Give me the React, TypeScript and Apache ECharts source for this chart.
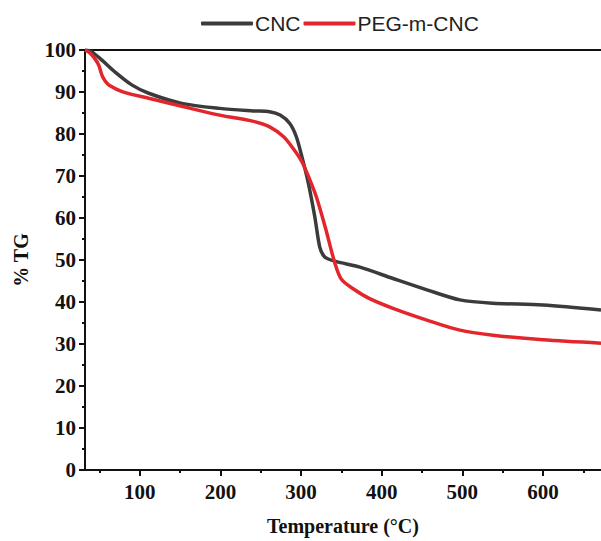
import React, { useEffect, useRef } from "react";
import * as echarts from "echarts";

const cncTemp = [32, 40, 53, 69, 90, 111, 152, 199, 241, 261, 274, 286, 294, 301, 309, 317, 323, 328, 333, 344, 373, 414, 456, 497, 538, 600, 672];
const cncTG = [100, 99.6, 97.6, 94.8, 91.7, 89.7, 87.3, 86.1, 85.5, 85.3, 84.5, 82.5, 79.4, 74.6, 68.3, 60.3, 53.2, 51, 50.3, 49.6, 48.3, 45.6, 42.9, 40.5, 39.7, 39.3, 38.1];

const pegTemp = [32, 38, 44, 49, 53, 57, 62, 78, 111, 152, 199, 241, 261, 278, 290, 301, 310, 319, 330, 342, 350, 365, 385, 414, 456, 497, 538, 600, 672];
const pegTG = [100, 99.3, 98, 96.4, 94, 92.6, 91.6, 90.1, 88.5, 86.6, 84.5, 83, 81.7, 79.4, 76.6, 73.4, 69.5, 65, 57.8, 49.2, 45.4, 43.1, 40.8, 38.5, 35.7, 33.3, 32.1, 31, 30.2];

const xMajor = [100, 200, 300, 400, 500, 600];
const xMinor = [50, 150, 250, 350, 450, 550, 650];

const seriesNames = ["CNC", "PEG-m-CNC"];
const seriesColors = ["#3b3b3b", "#e3262b"];

const serif = "'Liberation Serif', 'Times New Roman', serif";
const sans = "'Liberation Sans', Arial, sans-serif";

export default function App() {
  const ref = useRef<HTMLDivElement>(null);
  useEffect(() => {
    if (!ref.current) return;
    const chart = echarts.init(ref.current, undefined, { renderer: "svg" });
    const zip = (xs: number[], ys: number[]) => xs.map((x, i) => [x, ys[i]]);
    chart.setOption({
      animation: false,
      backgroundColor: "#ffffff",
      legend: {
        top: 8,
        left: 196,
        itemWidth: 52,
        itemHeight: 4,
        itemGap: 3,
        icon: "roundRect",
        data: seriesNames,
        textStyle: { fontFamily: sans, fontSize: 21, color: "#222", padding: [0, 0, 0, -3] },
      },
      grid: { left: 85, right: 0, top: 50, bottom: 71, containLabel: false },
      xAxis: [
        {
          type: "value",
          min: 32,
          max: 672,
          position: "bottom",
          name: "Temperature (°C)",
          nameLocation: "middle",
          nameGap: 46,
          nameTextStyle: { fontFamily: serif, fontWeight: "bold", fontSize: 20, color: "#111" },
          axisLine: { show: true, lineStyle: { color: "#111", width: 2 } },
          axisTick: { show: true, customValues: xMajor, length: 6, lineStyle: { color: "#111", width: 2 } },
          axisLabel: { customValues: xMajor, fontFamily: serif, fontWeight: "bold", fontSize: 21, color: "#111", margin: 11 },
          splitLine: { show: false },
        },
        {
          type: "value",
          min: 32,
          max: 672,
          position: "bottom",
          axisLine: { show: false },
          axisTick: { show: true, customValues: xMinor, length: 3, lineStyle: { color: "#111", width: 2 } },
          axisLabel: { show: false },
          splitLine: { show: false },
        },
        {
          type: "value",
          min: 32,
          max: 672,
          position: "top",
          axisLine: { show: true, lineStyle: { color: "#111", width: 2 } },
          axisTick: { show: false },
          axisLabel: { show: false },
          splitLine: { show: false },
        },
      ],
      yAxis: {
        type: "value",
        min: 0,
        max: 100,
        interval: 10,
        name: "% TG",
        nameLocation: "middle",
        nameGap: 54,
        nameTextStyle: { fontFamily: serif, fontWeight: "bold", fontSize: 20, color: "#111" },
        axisLine: { show: true, lineStyle: { color: "#111", width: 2 } },
        axisTick: { show: true, length: 6, lineStyle: { color: "#111", width: 2 } },
        minorTick: { show: true, splitNumber: 2, length: 3, lineStyle: { color: "#111", width: 2 } },
        axisLabel: { fontFamily: serif, fontWeight: "bold", fontSize: 21, color: "#111", margin: 9 },
        splitLine: { show: false },
        minorSplitLine: { show: false },
      },
      series: [
        {
          name: seriesNames[0],
          type: "line",
          data: zip(cncTemp, cncTG),
          smooth: 0.3,
          showSymbol: false,
          lineStyle: { color: seriesColors[0], width: 3.5 },
          itemStyle: { color: seriesColors[0] },
        },
        {
          name: seriesNames[1],
          type: "line",
          data: zip(pegTemp, pegTG),
          smooth: 0.3,
          showSymbol: false,
          lineStyle: { color: seriesColors[1], width: 3.5 },
          itemStyle: { color: seriesColors[1] },
        },
      ],
    });
    return () => chart.dispose();
  }, []);
  return <div ref={ref} style={{ width: 601, height: 541, position: "absolute", left: 0, top: 0 }} />;
}
